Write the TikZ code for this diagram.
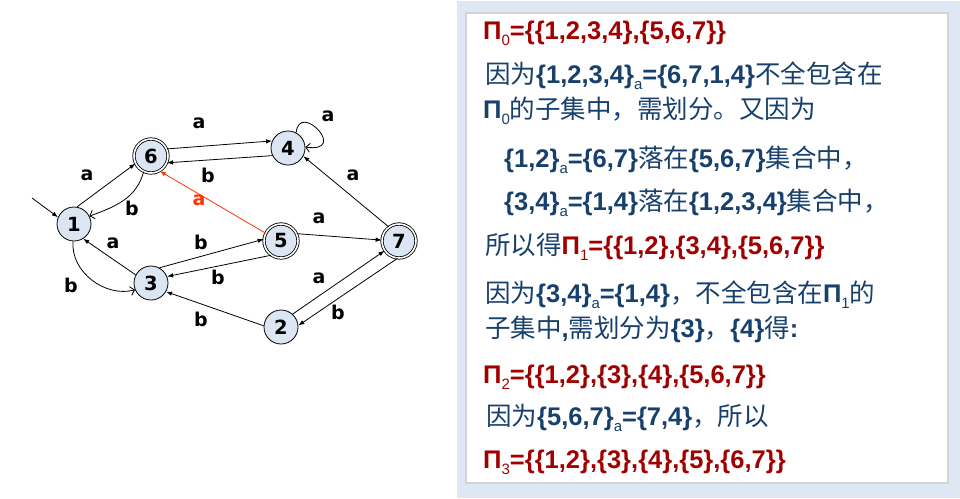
\documentclass[tikz,border=0pt]{standalone}
\usepackage{fontspec}
\setmainfont{Liberation Sans}
\newfontfamily\cjk{Noto Sans CJK SC}
\newfontfamily\gfont{DejaVu Sans}
\usetikzlibrary{arrows.meta}

\definecolor{nodefill}{HTML}{DCE6F2}
\definecolor{panelbg}{HTML}{DEE8F4}
\definecolor{boxline}{HTML}{D4D4D4}
\definecolor{txtblue}{HTML}{17406D}
\definecolor{txtred}{HTML}{A00000}
\definecolor{hilite}{HTML}{FF3300}

% Chinese run, Latin subscript
\newcommand\zh[1]{{\cjk\mdseries\fontsize{25.5}{25.5}\selectfont#1}}
\newcommand\sbx[1]{\raisebox{-6pt}{\fontsize{15}{15}\selectfont\mdseries#1}}

\tikzset{
  state/.style={circle, draw, line width=0.8pt, fill=nodefill, minimum size=34pt,
    inner sep=0pt, font=\gfont\bfseries\fontsize{19.5}{19.5}\selectfont},
  accept/.style={state, double, double distance=1.6pt},
  elabel/.style={inner sep=0pt, font=\gfont\bfseries\fontsize{19}{19}\selectfont},
  edge/.style={line width=0.8pt, -{Latex[length=6pt,width=4.5pt]}},
  oedge/.style={line width=0.8pt, -{Straight Barb[length=4pt,width=9pt]}},
  txt/.style={anchor=base west, inner sep=0pt, text=txtblue,
    font=\fontsize{25.5}{25.5}\selectfont\bfseries},
}

\begin{document}
\begin{tikzpicture}[x=1pt,y=-1pt]
\useasboundingbox (0,0) rectangle (960,498);

% right-hand explanation panel
\fill[panelbg] (457,1) rectangle (960,498);
\draw[boxline, line width=1.2pt, fill=white] (466,13) rectangle (948,483);

% automaton states
\node[state]  (n1) at (74,224) {1};
\node[accept] (n6) at (151,156) {6};
\node[state]  (n4) at (288,148) {4};
\node[accept] (n5) at (281,241) {5};
\node[accept] (n7) at (399,241) {7};
\node[state]  (n3) at (151,283) {3};
\node[state]  (n2) at (281,327) {2};

% start arrow
\coordinate (start) at (32,198);
\draw[edge] (start) -- (n1.157);

% transitions
\draw[edge] (n6.24) -- (n4.156);
\draw[edge] (n4.206) -- (n6.337);
\draw[edge] (n1.80) -- (n6.206);
\draw[oedge] (n6.245) to[out=255,in=20] (n1.27);
\draw[edge, hilite] (n5.153) -- (n6.300);
\draw[edge] (n5.25) -- (n7.177);
\draw[edge] (n7.126) -- (n4.332);
\draw[edge] (n3.61) -- (n5.174);
\draw[edge] (n5.235) -- (n3.22);
\draw[edge] (n3.152) -- (n1.302);
\draw[oedge] (n1.267) to[out=265,in=195] (n3.203);
\draw[edge] (n2.176) -- (n3.330);
\draw[edge] (n2.48) -- (n7.214);
\draw[edge] (n7.265) -- (n2.5);
\draw[oedge] (n4.62) .. controls +(3,-32) and +(44,6) .. (n4.3);

% transition labels
\node[elabel] (la64) at (199,123) {a};
\node[elabel] (lb46) at (208,175) {b};
\node[elabel] (la44) at (328,116) {a};
\node[elabel] (la16) at (87,175) {a};
\node[elabel] (lb61) at (132,208) {b};
\node[elabel, text=hilite] (la56) at (199,200) {a};
\node[elabel] (la74) at (353,175) {a};
\node[elabel] (la57) at (319,218) {a};
\node[elabel] (lb35) at (201,242) {b};
\node[elabel] (lb53) at (218,277) {b};
\node[elabel] (la31) at (113,243) {a};
\node[elabel] (lb13) at (71,285) {b};
\node[elabel] (la27) at (319,278) {a};
\node[elabel] (lb72) at (338,312) {b};
\node[elabel] (lb23) at (201,319) {b};

% partition refinement steps
\node[txt, text=txtred] (t1) at (483,39) {Π\sbx{0}=\{\{1,2,3,4\},\{5,6,7\}\}};
\node[txt] (t2) at (485,83) {\zh{因为}\{1,2,3,4\}\sbx{a}=\{6,7,1,4\}\zh{不全包含在}};
\node[txt] (t3) at (483,118) {Π\sbx{0}\zh{的子集中，需划分。又因为}};
\node[txt] (t4) at (504,167) {\{1,2\}\sbx{a}=\{6,7\}\zh{落在}\{5,6,7\}\zh{集合中，}};
\node[txt] (t5) at (504,210) {\{3,4\}\sbx{a}=\{1,4\}\zh{落在}\{1,2,3,4\}\zh{集合中，}};
\node[txt] (t6) at (485,254) {\zh{所以得}\textcolor{txtred}{Π\sbx{1}=\{\{1,2\},\{3,4\},\{5,6,7\}\}}};
\node[txt] (t7) at (485,302) {\zh{因为}\{3,4\}\sbx{a}=\{1,4\}\zh{，不全包含在}Π\sbx{1}\zh{的}};
\node[txt] (t8) at (485,337) {\zh{子集中},\zh{需划分为}\{3\}\zh{，}\{4\}\zh{得}:};
\node[txt, text=txtred] (t9) at (483,383) {Π\sbx{2}=\{\{1,2\},\{3\},\{4\},\{5,6,7\}\}};
\node[txt] (t10) at (486,425) {\zh{因为}\{5,6,7\}\sbx{a}=\{7,4\}\zh{，所以}};
\node[txt, text=txtred] (t11) at (483,468) {Π\sbx{3}=\{\{1,2\},\{3\},\{4\},\{5\},\{6,7\}\}};
\end{tikzpicture}
\end{document}
